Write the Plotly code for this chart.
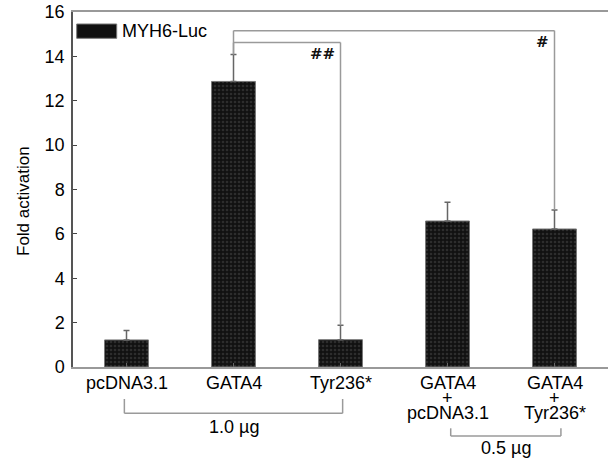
import plotly.graph_objects as go

# ---- data ----
categories = ["pcDNA3.1", "GATA4", "Tyr236*", "GATA4 + pcDNA3.1", "GATA4 + Tyr236*"]
label_lines = [["pcDNA3.1"], ["GATA4"], ["Tyr236*"],
               ["GATA4", "+", "pcDNA3.1"], ["GATA4", "+", "Tyr236*"]]
fold_activation = [1.22, 12.87, 1.23, 6.58, 6.22]
error_upper = [0.43, 1.22, 0.65, 0.84, 0.86]
series_name = "MYH6-Luc"
y_ticks = [0, 2, 4, 6, 8, 10, 12, 14, 16]

# significance brackets: (from category, to category, bracket height, marker)
sig_brackets = [(1, 2, 14.62, "##"), (1, 4, 15.16, "#")]
# dose groups: (first category, last category, label)
dose_groups = [(0, 2, "1.0 \u00b5g"), (3, 4, "0.5 \u00b5g")]

FONT = "Liberation Sans, Arial, sans-serif"
W, H = 608, 459
L, R, T, B = 73, 0, 12, 92

x_idx = list(range(len(categories)))

fig = go.Figure()
fig.add_trace(go.Bar(
    x=x_idx, y=fold_activation, name=series_name, width=0.41,
    marker=dict(color="#111111", line=dict(color="#777777", width=1),
                pattern=dict(shape=".", fgcolor="#4a4a4a", bgcolor="#111111",
                             size=4, solidity=0.35)),
    error_y=dict(type="data", symmetric=False, array=error_upper,
                 arrayminus=[0] * len(error_upper),
                 color="#666666", thickness=1.5, width=3),
    showlegend=False,
))

shapes = []
annotations = []

# significance brackets in data coordinates
for a, b, h, mark in sig_brackets:
    ya = fold_activation[a] + error_upper[a]
    yb = fold_activation[b] + error_upper[b]
    for x0, y0, x1, y1 in [(a, ya, a, h), (a, h, b, h), (b, h, b, yb)]:
        shapes.append(dict(type="line", xref="x", yref="y", x0=x0, y0=y0, x1=x1, y1=y1,
                           line=dict(color="#9a9a9a", width=1.5)))
    annotations.append(dict(x=b - 0.035, y=h - 0.5, xref="x", yref="y", text="<b>%s</b>" % mark,
                            showarrow=False, xanchor="right", yanchor="middle",
                            font=dict(family="DejaVu Serif, serif", size=15, color="#111")))

def py(pix):
    return (H - B - pix) / (H - B - T)

def px(pix):
    return (pix - L) / (W - L - R)

# category labels
line_y = [382.5, 398, 413.3]
for i, lines in enumerate(label_lines):
    for j, txt in enumerate(lines):
        annotations.append(dict(x=i, y=py(line_y[j]), xref="x", yref="paper", text=txt,
                                showarrow=False, xanchor="center", yanchor="middle",
                                font=dict(family=FONT, size=18, color="black")))

# dose group brackets below axis
dose_geom = [
    dict(x0=-0.02, x1=2.02, ytop=399, ybot=413.3, ytext=427),
    dict(x0=3.03, x1=4.06, ytop=428.3, ybot=436, ytext=448.5),
]
for (a, b, txt), g in zip(dose_groups, dose_geom):
    for x0, y0, x1, y1 in [(g["x0"], g["ytop"], g["x0"], g["ybot"]),
                           (g["x0"], g["ybot"], g["x1"], g["ybot"]),
                           (g["x1"], g["ybot"], g["x1"], g["ytop"])]:
        shapes.append(dict(type="line", xref="x", yref="paper", x0=x0, y0=py(y0), x1=x1, y1=py(y1),
                           line=dict(color="#9a9a9a", width=1.5)))
    annotations.append(dict(x=(g["x0"] + g["x1"]) / 2, y=py(g["ytext"]), xref="x", yref="paper",
                            text=txt, showarrow=False, xanchor="center", yanchor="middle",
                            font=dict(family=FONT, size=18, color="black")))

# legend (patch + text)
shapes.append(dict(type="rect", xref="paper", yref="paper",
                   x0=px(76.7), x1=px(116.7), y0=py(38.3), y1=py(24),
                   fillcolor="#111111", line=dict(color="#777777", width=1)))
annotations.append(dict(x=px(119.5), y=py(31), xref="paper", yref="paper", text=series_name,
                        showarrow=False, xanchor="left", yanchor="middle",
                        font=dict(family=FONT, size=18, color="black")))

# y-axis title
annotations.append(dict(x=px(24), y=py(201), xref="paper", yref="paper", text="Fold activation",
                        textangle=-90, showarrow=False, xanchor="center", yanchor="middle",
                        font=dict(family=FONT, size=17, color="black")))

fig.update_layout(
    width=W, height=H,
    margin=dict(l=L, r=R, t=T, b=B, pad=0),
    plot_bgcolor="white", paper_bgcolor="white",
    shapes=shapes, annotations=annotations,
    xaxis=dict(range=[-0.5, 4.5], tickmode="array", tickvals=x_idx, ticktext=[""] * 5,
               tickson="boundaries", ticks="inside", ticklen=4, tickcolor="#666",
               showline=True, linecolor="#999999", linewidth=1.5, mirror=True,
               showgrid=False, zeroline=False, fixedrange=True),
    yaxis=dict(range=[0, 16], tickmode="array", tickvals=y_ticks,
               ticks="inside", ticklen=4, tickcolor="#444",
               showline=True, linecolor="#555555", linewidth=1.5,
               showgrid=False, zeroline=False, ticklabelstandoff=3, fixedrange=True,
               tickfont=dict(family=FONT, size=18, color="black")),
)

fig.write_html("out.html", config={"displayModeBar": False},
               post_script="document.body.style.margin='0';document.body.style.overflow='hidden';")
